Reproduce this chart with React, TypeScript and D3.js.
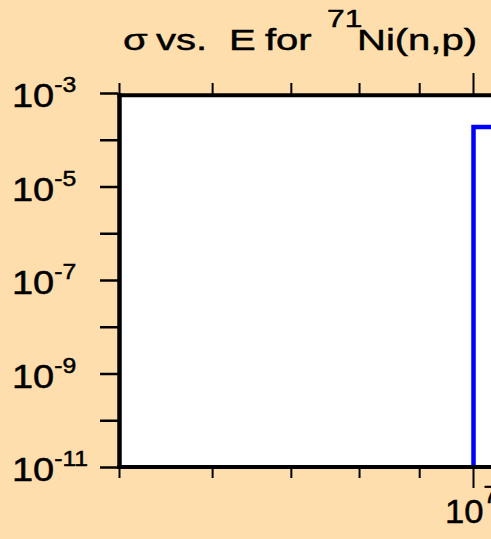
import React from "react";
import * as d3 from "d3";

const energies: number[] = [1e7, 1e7, 2e7];
const sigmas: number[] = [1e-12, 1.92e-4, 1.92e-4];
const yTickExps: number[] = [-11, -10, -9, -8, -7, -6, -5, -4, -3];
const yLabelExps: number[] = [-11, -9, -7, -5, -3];
const xMinorTicks: number[] = [5e6, 6e6, 7e6, 8e6, 9e6];
const xMajorTicks: number[] = [1e7];
const xLabelExps: number[] = [7];
const titlePieces: string[] = ["σ", "vs.", "E", "for", "71", "Ni(n,p)"];

const W = 491;
const H = 539;
const BG = "#FFDEAD";

export default function App() {
  const x = d3.scaleLog().domain([5e6, 2e7]).range([119.5, 119.5 + 2 * 354]);
  const y = d3.scaleLog().domain([1e-11, 1e-3]).range([467.5, 93.5]);
  const pts = energies.map((e, i) => [e, sigmas[i]] as [number, number]);
  const line = d3
    .line<[number, number]>()
    .x((d) => x(d[0]))
    .y((d) => y(d[1]));

  const plotLeft = 119.5;
  const plotTop = 95.3;
  const plotBottom = 467;
  const font = "'Liberation Sans', Arial, sans-serif";

  const tSx = 1.38;
  const tStarts = [123, 156, 229, 265, 327, 357];
  const tBase = [50, 50, 50, 50, 27, 50];
  const tSize = [29, 29, 29, 29, 23, 29];

  return (
    <svg
      width={W}
      height={H}
      style={{ position: "absolute", left: 0, top: 0, display: "block" }}
    >
      <rect x={0} y={0} width={W} height={H} fill={BG} />
      <defs>
        <clipPath id="plotClip">
          <rect x={plotLeft} y={plotTop} width={800} height={plotBottom - plotTop} />
        </clipPath>
      </defs>
      <rect x={plotLeft} y={plotTop} width={800} height={plotBottom - plotTop} fill="#fff" />
      <path
        d={line(pts) || ""}
        fill="none"
        stroke="#0000FF"
        strokeWidth={4.5}
        clipPath="url(#plotClip)"
      />
      {/* frame */}
      <line x1={plotLeft - 2.2} x2={W + 10} y1={plotTop} y2={plotTop} stroke="#000" strokeWidth={4} />
      <line x1={plotLeft - 2.2} x2={W + 10} y1={plotBottom} y2={plotBottom} stroke="#000" strokeWidth={4} />
      <line x1={plotLeft} x2={plotLeft} y1={plotTop - 2} y2={plotBottom + 2} stroke="#000" strokeWidth={4.5} />
      {/* y ticks */}
      {yTickExps.map((e) => (
        <line key={e} x1={100} x2={118} y1={y(Math.pow(10, e))} y2={y(Math.pow(10, e))} stroke="#000" strokeWidth={2.5} />
      ))}
      {/* x ticks */}
      {xMinorTicks.map((v) => (
        <g key={v}>
          <line x1={x(v)} x2={x(v)} y1={83} y2={94} stroke="#000" strokeWidth={2} />
          <line x1={x(v)} x2={x(v)} y1={468} y2={478} stroke="#000" strokeWidth={2} />
        </g>
      ))}
      {xMajorTicks.map((v) => (
        <g key={v}>
          <line x1={x(v)} x2={x(v)} y1={73} y2={94} stroke="#000" strokeWidth={2} />
          <line x1={x(v)} x2={x(v)} y1={468} y2={488} stroke="#000" strokeWidth={2} />
        </g>
      ))}
      {/* y labels */}
      {yLabelExps.map((e) => {
        const ty = y(Math.pow(10, e)) + 13.5;
        return (
          <text
            key={e}
            transform={`translate(12,${ty}) scale(1.15,1)`}
            fontFamily={font}
            fontSize={33}
            fill="#000"
            stroke="#000"
            strokeWidth={0.5}
          >
            <tspan>10</tspan>
            <tspan fontSize={21.5} dy={-15}>{String(e)}</tspan>
          </text>
        );
      })}
      {/* x labels */}
      {xLabelExps.map((e) => (
        <text
          key={e}
          transform={`translate(${x(Math.pow(10, e)) - 28.5},523) scale(1.05,1)`}
          fontFamily={font}
          fontSize={33}
          fill="#000"
          stroke="#000"
          strokeWidth={0.5}
        >
          <tspan>10</tspan>
          <tspan fontSize={24} dy={-20}>{String(e)}</tspan>
        </text>
      ))}
      {/* title */}
      <text
        transform={`scale(${tSx},1)`}
        fontFamily={font}
        fill="#000"
        stroke="#000"
        strokeWidth={0.45}
      >
        {titlePieces.map((p, i) => (
          <tspan key={i} x={tStarts[i] / tSx} y={tBase[i]} fontSize={tSize[i]}>
            {p}
          </tspan>
        ))}
      </text>
    </svg>
  );
}
